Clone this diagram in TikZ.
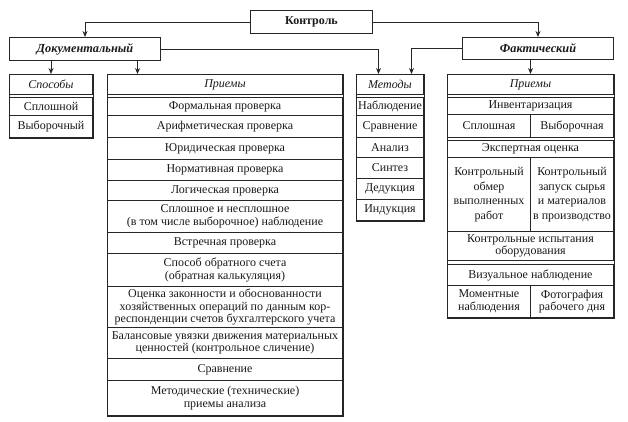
\documentclass[tikz,border=0pt]{standalone}
\usepackage{fontspec}
\setmainfont{Liberation Serif}
\usetikzlibrary{arrows.meta,calc}
\newcommand\mycell[7][]{\node[cellbox,#1,minimum width=#5pt,minimum height=#6pt] (#2) at (#3,#4) {#7};}
\begin{document}
\begin{tikzpicture}[x=1pt,y=-1pt,
  cellbox/.style={draw=black!85, line width=1pt, inner sep=0pt, align=center,
    anchor=north west, font=\fontsize{12}{12.6}\selectfont, text=black!90},
  hdr/.style={font=\fontsize{12}{12.6}\selectfont\itshape},
  loose/.style={font=\fontsize{12}{14.5}\selectfont},
  big/.style={font=\fontsize{12}{13}\selectfont\bfseries},
  bigit/.style={font=\fontsize{12.3}{13}\selectfont\bfseries\itshape},
  frame/.style={draw=black!85, line width=1pt},
  arr/.style={draw=black!85, line width=1pt, -{Stealth[length=6pt,width=5pt]}}]
\useasboundingbox (0,0) rectangle (628,421);

% top level
\mycell[big]{kontrol}{250}{10}{122}{23}{Контроль}
\mycell[bigit]{dok}{9}{37}{151}{23}{Документальный}
\mycell[bigit]{fakt}{462}{37}{151}{22}{Фактический}

% Способы
\mycell[hdr]{sph}{9}{74}{83}{20}{Способы}
\mycell{sp1}{9}{97}{83}{18}{Сплошной}
\mycell{sp2}{9}{115}{83}{22}{Выборочный}
\draw[frame] (sph.north west) rectangle (sp2.south east);

% Приемы (документальный)
\mycell[hdr]{plh}{107}{74}{235}{20}{Приемы}
\mycell{pl1}{107}{97}{235}{18}{Формальная проверка}
\mycell{pl2}{107}{115}{235}{22}{Арифметическая проверка}
\mycell{pl3}{107}{137}{235}{22}{Юридическая проверка}
\mycell{pl4}{107}{159}{235}{21}{Нормативная проверка}
\mycell{pl5}{107}{180}{235}{20}{Логическая проверка}
\mycell{pl6}{107}{200}{235}{32}{Сплошное и несплошное\\(в том числе выборочное) наблюдение}
\mycell{pl7}{107}{232}{235}{21}{Встречная проверка}
\mycell{pl8}{107}{253}{235}{33}{Способ обратного счета\\(обратная калькуляция)}
\mycell{pl9}{107}{286}{235}{41}{Оценка законности и обоснованности\\хозяйственных операций по данным кор-\\респонденции счетов бухгалтерского учета}
\mycell{pl10}{107}{327}{235}{31}{Балансовые увязки движения материальных\\ценностей (контрольное сличение)}
\mycell{pl11}{107}{358}{235}{22}{Сравнение}
\mycell{pl12}{107}{380}{235}{35}{Методические (технические)\\приемы анализа}
\draw[frame] (plh.north west) rectangle (pl12.south east);

% Методы
\mycell[hdr]{mh}{356}{74}{67}{20}{Методы}
\mycell{m1}{356}{97}{67}{18}{Наблюдение}
\mycell{m2}{356}{115}{67}{22}{Сравнение}
\mycell{m3}{356}{137}{67}{20}{Анализ}
\mycell{m4}{356}{157}{67}{21}{Синтез}
\mycell{m5}{356}{178}{67}{21}{Дедукция}
\mycell{m6}{356}{199}{67}{21}{Индукция}
\draw[frame] (mh.north west) rectangle (m6.south east);

% Приемы (фактический)
\mycell[hdr]{prh}{447}{74}{166}{20}{Приемы}
\mycell{pr1}{447}{97}{166}{17}{Инвентаризация}
\mycell{pr2a}{447}{114}{83}{23}{Сплошная}
\mycell{pr2b}{530}{114}{83}{23}{Выборочная}
\mycell{pr3}{447}{140}{166}{17}{Экспертная оценка}
\mycell[loose]{pr4a}{447}{157}{83}{74}{Контрольный\\обмер\\выполненных\\работ}
\mycell[loose]{pr4b}{530}{157}{83}{74}{Контрольный\\запуск сырья\\и материалов\\в производство}
\mycell{pr5}{447}{231}{166}{29}{Контрольные испытания\\оборудования}
\mycell{pr6}{447}{264}{166}{21}{Визуальное наблюдение}
\mycell{pr7a}{447}{285}{83}{32}{Моментные\\наблюдения}
\mycell{pr7b}{530}{285}{83}{32}{Фотография\\рабочего дня}
\draw[frame] (prh.north west) rectangle (pr7b.south east);

% connectors
\draw[arr] (kontrol.west) -| (dok.north);
\draw[arr] (kontrol.east) -| (fakt.north);
\draw[arr] (dok.east) -| ([xshift=-11.5pt]mh.north);
\draw[arr] (fakt.west) -| ([xshift=21.5pt]mh.north);
\draw[arr] (prh.north |- fakt.south) -- (prh.north);
\draw[arr] (sph.north |- dok.south) -- (sph.north);
\draw[arr] ([xshift=52.5pt]dok.south) -- ([xshift=52.5pt]dok.south |- plh.north);
\end{tikzpicture}
\end{document}
